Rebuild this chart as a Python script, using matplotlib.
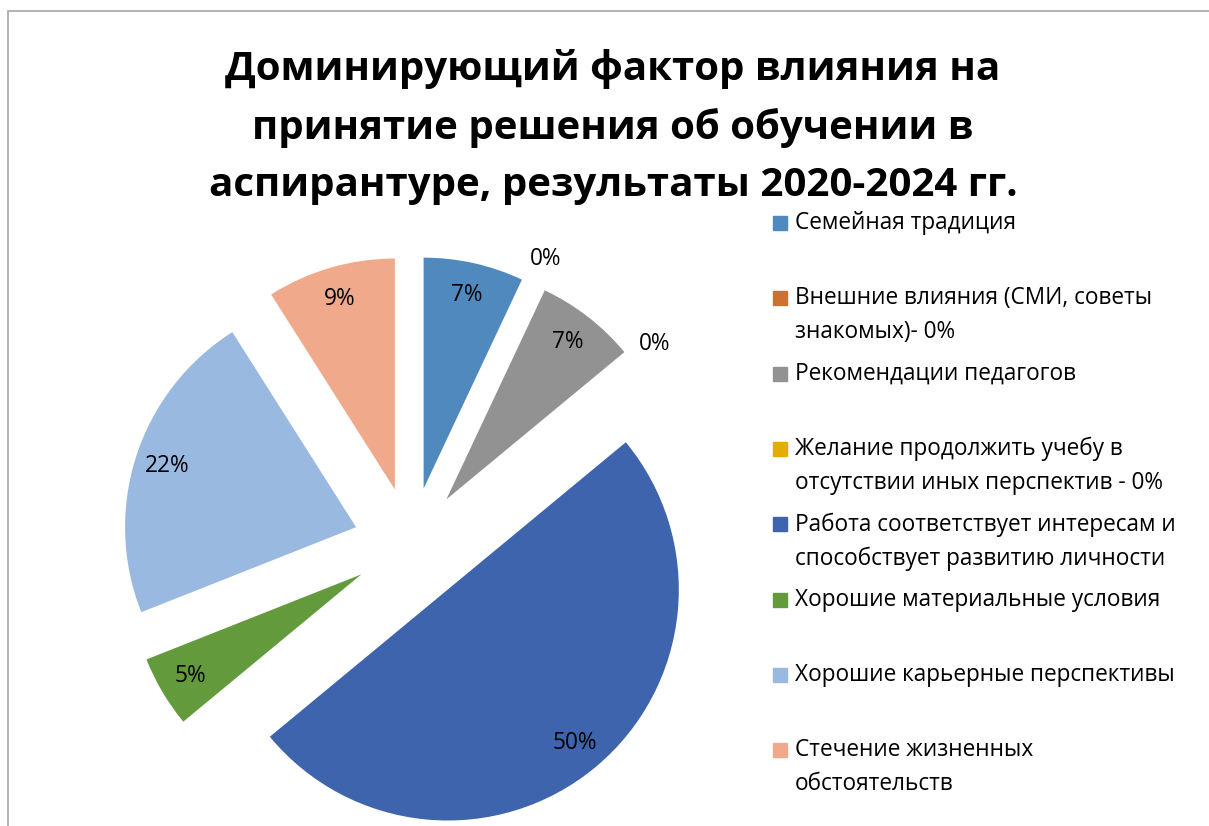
import matplotlib
matplotlib.use("Agg")
import matplotlib.pyplot as plt
from matplotlib.patches import Rectangle

plt.rcParams['font.family'] = ['Open Sans', 'DejaVu Sans']

labels = ["Семейная традиция",
          "Внешние влияния (СМИ, советы\nзнакомых)- 0%",
          "Рекомендации педагогов",
          "Желание продолжить учебу в\nотсутствии иных перспектив - 0%",
          "Работа соответствует интересам и\nспособствует развитию личности",
          "Хорошие материальные условия",
          "Хорошие карьерные перспективы",
          "Стечение жизненных\nобстоятельств"]
values = [7, 0, 7, 0, 50, 5, 22, 9]
colors = ["#4F89BD", "#D0702E", "#929292", "#E3AC00",
          "#3E64AD", "#629A3C", "#99B9E0", "#F0A98B"]
title = "Доминирующий фактор влияния на\nпринятие решения об обучении в\nаспирантуре, результаты 2020-2024 гг."

W, H = 1209, 826
fig = plt.figure(figsize=(W / 100, H / 100), dpi=100)

# outer frame
fig.patches.append(Rectangle((8 / W, -0.01), 1.0, 1 - 11 / H + 0.01, transform=fig.transFigure,
                             fill=False, edgecolor="#A6A6A6", lw=1.2))

# pie axes: center at (411, 545) px, radius 231 px, view +-1.5 radii
cx, cy, r = 411, 545, 231
half = 1.5 * r
ax = fig.add_axes([(cx - half) / W, (H - cy - half) / H, 2 * half / W, 2 * half / H])
wedges, texts, autotexts = ax.pie(values, colors=colors, startangle=90, counterclock=False,
                                  explode=[0.25] * len(values), autopct="%1.0f%%",
                                  pctdistance=0.86, radius=1.0,
                                  textprops=dict(fontsize=16.3, color="black"))
ax.set_xlim(-1.5, 1.5)
ax.set_ylim(-1.5, 1.5)
ax.set_aspect("equal")
ax.axis("off")

# zero-value labels sit outside the pie
for i, t in enumerate(autotexts):
    if values[i] == 0:
        x, y = t.get_position()
        t.set_position((x / 0.86 * 1.06, y / 0.86 * 1.06))

fig.text(613 / W, 1 - 127 / H, title, ha="center", va="center", fontsize=29,
         fontweight="bold", linespacing=1.62)

# legend, drawn by hand to match the item spacing
y0, step = 223, 75.3
for i, (lab, col) in enumerate(zip(labels, colors)):
    y = y0 + i * step
    fig.patches.append(Rectangle((773 / W, 1 - (y + 7) / H), 14 / W, 14 / H,
                                 transform=fig.transFigure, color=col))
    fig.text(795 / W, 1 - (y - 12) / H, lab, ha="left", va="top", fontsize=16.3,
             linespacing=1.55)

fig.savefig("out.png", dpi=100)
